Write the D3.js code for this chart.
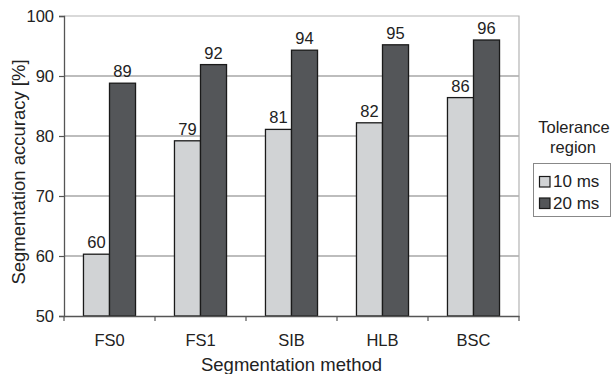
<!DOCTYPE html>
<html><head><meta charset="utf-8">
<script src="https://cdn.jsdelivr.net/npm/d3@7/dist/d3.min.js"></script>
<style>body{margin:0;background:#fff}svg{display:block;font-family:"Liberation Sans",Arial,sans-serif}</style>
</head><body><svg id="c" width="612" height="374"></svg>
<script>
const categories = ["FS0","FS1","SIB","HLB","BSC"];
const seriesNames = ["10 ms","20 ms"];
const values10 = [60.3,79.2,81.1,82.2,86.4];
const values20 = [88.8,91.9,94.3,95.2,96.0];
const yTicks = [50,60,70,80,90,100];
const colors = ["#d1d3d5","#545659"];

const svg = d3.select("#c");
const m = {l:64, r:519, t:16, b:316};
const x = d3.scaleBand().domain(categories).range([m.l,m.r]).paddingInner(0).paddingOuter(0);
const y = d3.scaleLinear().domain([50,100]).range([m.b,m.t]);
const bw = x.bandwidth()*0.286;
const series = [values10, values20];

// gridlines
svg.append("g").selectAll("line").data(yTicks.filter(d=>d>50&&d<100)).join("line")
  .attr("x1",m.l).attr("x2",m.r).attr("y1",d=>y(d)).attr("y2",d=>y(d))
  .attr("stroke","#7d7d7d").attr("stroke-width",1.2);
// top/right border
svg.append("path").attr("d",`M${m.l},${m.t}H${m.r}V${m.b}`).attr("fill","none").attr("stroke","#b4b4b4").attr("stroke-width",1.2);

// bars
series.forEach((vals,si)=>{
  svg.append("g").selectAll("rect").data(vals).join("rect")
    .attr("x",(d,i)=>x(categories[i])+x.bandwidth()/2-bw+si*bw)
    .attr("y",d=>y(d)).attr("width",bw).attr("height",d=>y(50)-y(d))
    .attr("fill",colors[si]).attr("stroke","#1a1a1a").attr("stroke-width",1.3);
  svg.append("g").selectAll("text").data(vals).join("text")
    .attr("x",(d,i)=>x(categories[i])+x.bandwidth()/2-bw/2+si*bw)
    .attr("y",d=>y(d)-6).attr("text-anchor","middle")
    .attr("font-size",16.5).attr("fill","#222").text(d=>Math.round(d));
});

// y axis
const ya = svg.append("g").attr("transform",`translate(${m.l},0)`)
  .call(d3.axisLeft(y).tickValues(yTicks).tickSize(5).tickPadding(5));
ya.select(".domain").attr("stroke","#555").attr("stroke-width",1.3);
ya.selectAll(".tick line").attr("stroke","#555").attr("stroke-width",1.2);
ya.selectAll(".tick text").attr("font-size",16.5).attr("fill","#222").attr("font-family","Liberation Sans, Arial, sans-serif");

// x axis
const xa = svg.append("g").attr("transform",`translate(0,${m.b})`)
  .call(d3.axisBottom(x).tickSize(0).tickPadding(18));
xa.select(".domain").attr("stroke","#555").attr("stroke-width",1.3);
xa.selectAll(".tick text").attr("font-size",16.5).attr("fill","#222").attr("font-family","Liberation Sans, Arial, sans-serif");
svg.append("g").selectAll("line").data(d3.range(categories.length+1)).join("line")
  .attr("x1",i=>m.l+i*x.bandwidth()).attr("x2",i=>m.l+i*x.bandwidth())
  .attr("y1",m.b).attr("y2",m.b+5).attr("stroke","#555").attr("stroke-width",1.2);

// titles
svg.append("text").attr("x",(m.l+m.r)/2).attr("y",371).attr("text-anchor","middle")
  .attr("font-size",18.5).attr("fill","#222").text("Segmentation method");
svg.append("text").attr("transform","translate(25,172) rotate(-90)").attr("text-anchor","middle")
  .attr("font-size",18.5).attr("fill","#222").text("Segmentation accuracy [%]");

// legend
svg.append("text").attr("x",574).attr("y",133).attr("text-anchor","middle").attr("font-size",16.5).attr("fill","#222").text("Tolerance");
svg.append("text").attr("x",573).attr("y",152.5).attr("text-anchor","middle").attr("font-size",16.5).attr("fill","#222").text("region");
svg.append("rect").attr("x",533.5).attr("y",163.5).attr("width",77).attr("height",53).attr("fill","#fff").attr("stroke","#888").attr("stroke-width",1);
seriesNames.forEach((n,i)=>{
  svg.append("rect").attr("x",539.5).attr("y",176.5+i*21.5).attr("width",10.5).attr("height",10.5)
    .attr("fill",colors[i]).attr("stroke","#1a1a1a").attr("stroke-width",1.2);
  svg.append("text").attr("x",553).attr("y",187+i*21.5).attr("font-size",17).attr("fill","#222").text(n);
});
</script></body></html>
